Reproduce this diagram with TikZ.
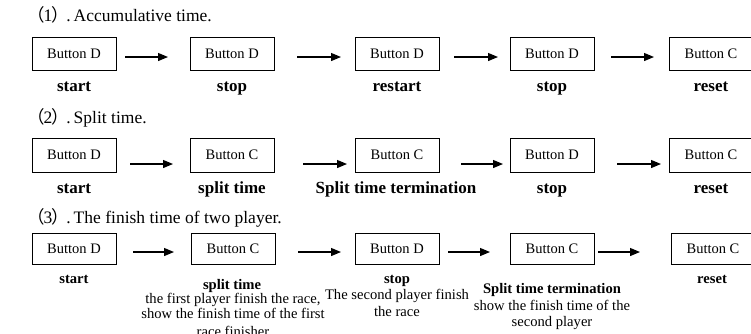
\documentclass[tikz,border=0pt]{standalone}
\usepackage{fontspec}
\setmainfont{Liberation Serif}
\newfontfamily\cjk{Noto Sans CJK SC}
\usetikzlibrary{arrows.meta}
\newcommand{\lpar}{{\cjk （}\kern-1pt}
\newcommand{\rpar}{\kern-1pt{\cjk ）}\kern-2.5pt}
\tikzset{
  btn/.style={draw, line width=0.9pt, minimum width=84pt, inner sep=0pt, font=\fontsize{14.5}{16}\selectfont},
  lab/.style={font=\fontsize{17}{19}\selectfont\bfseries, inner sep=0pt, anchor=base},
  labs/.style={font=\fontsize{14.6}{16}\selectfont\bfseries, inner sep=0pt, anchor=base},
  txt/.style={font=\fontsize{14.6}{16}\selectfont, inner sep=0pt, anchor=base},
  ttl/.style={font=\fontsize{17.5}{19}\selectfont, inner sep=0pt, anchor=base west},
  arr/.style={line width=1.2pt, -{Triangle[length=10pt,width=8pt]}},
}
\begin{document}
\begin{tikzpicture}[x=1pt,y=-1pt]
\useasboundingbox (0,0) rectangle (751,333);
% titles
\node[ttl] (t1) at (27,21) {\lpar 1\rpar.\,Accumulative time.};
\node[ttl] (t2) at (27,123) {\lpar 2\rpar.\,Split time.};
\node[ttl] (t3) at (27,223) {\lpar 3\rpar.\,The finish time of two player.};
% row 1
\foreach \n/\x/\t in {1/74/D, 2/232/D, 3/397/D, 4/552/D, 5/711/C}
  \node[btn, minimum height=33pt] (a\n) at (\x,53.5) {Button \t};
\node[lab] (la1) at (74,91.5) {start};
\node[lab] (la2) at (232,91.5) {stop};
\node[lab] (la3) at (397,91.5) {restart};
\node[lab] (la4) at (552,91.5) {stop};
\node[lab] (la5) at (711,91.5) {reset};
\foreach \i/\s/\e in {1/125/168, 2/297/341, 3/454/498, 4/611/654}{
  \coordinate (as\i) at (\s,57);
  \coordinate (ae\i) at (\e,57);
  \draw[arr] (as\i) -- (ae\i);
}
% row 2
\foreach \n/\x/\t in {1/74/D, 2/232/C, 3/397/C, 4/552/D, 5/711/C}
  \node[btn, minimum height=34pt] (b\n) at (\x,155) {Button \t};
\node[lab] (lb1) at (74,193.5) {start};
\node[lab] (lb2) at (232,193.5) {split time};
\node[lab] (lb3) at (396,193.5) {Split time termination};
\node[lab] (lb4) at (552,193.5) {stop};
\node[lab] (lb5) at (711,193.5) {reset};
\foreach \i/\s/\e in {1/130/173, 2/303/347, 3/461/503, 4/617/661}{
  \coordinate (bs\i) at (\s,164);
  \coordinate (be\i) at (\e,164);
  \draw[arr] (bs\i) -- (be\i);
}
% row 3
\foreach \n/\x/\t in {1/74/D, 2/233/C, 3/397/D, 4/552/C, 5/713/C}
  \node[btn, minimum height=31pt] (c\n) at (\x,248.5) {Button \t};
\node[labs] (lc1) at (74,283) {start};
\node[labs] (lc2) at (232,289) {split time};
\node[txt] (lc2a) at (233,303) {the first player finish the race,};
\node[txt] (lc2b) at (233,318) {show the finish time of the first};
\node[txt] (lc2c) at (233,336) {race finisher};
\node[labs] (lc3) at (397,283) {stop};
\node[txt] (lc3a) at (397,299) {The second player finish};
\node[txt] (lc3b) at (397,316.5) {the race};
\node[labs] (lc4) at (552,293) {Split time termination};
\node[txt] (lc4a) at (552,310) {show the finish time of the};
\node[txt] (lc4b) at (552,326.5) {second player};
\node[labs] (lc5) at (712,283) {reset};
\foreach \i/\s/\e in {1/133/174, 2/298/341, 3/448/490, 4/598/640}{
  \coordinate (cs\i) at (\s,252);
  \coordinate (ce\i) at (\e,252);
  \draw[arr] (cs\i) -- (ce\i);
}
\end{tikzpicture}
\end{document}
